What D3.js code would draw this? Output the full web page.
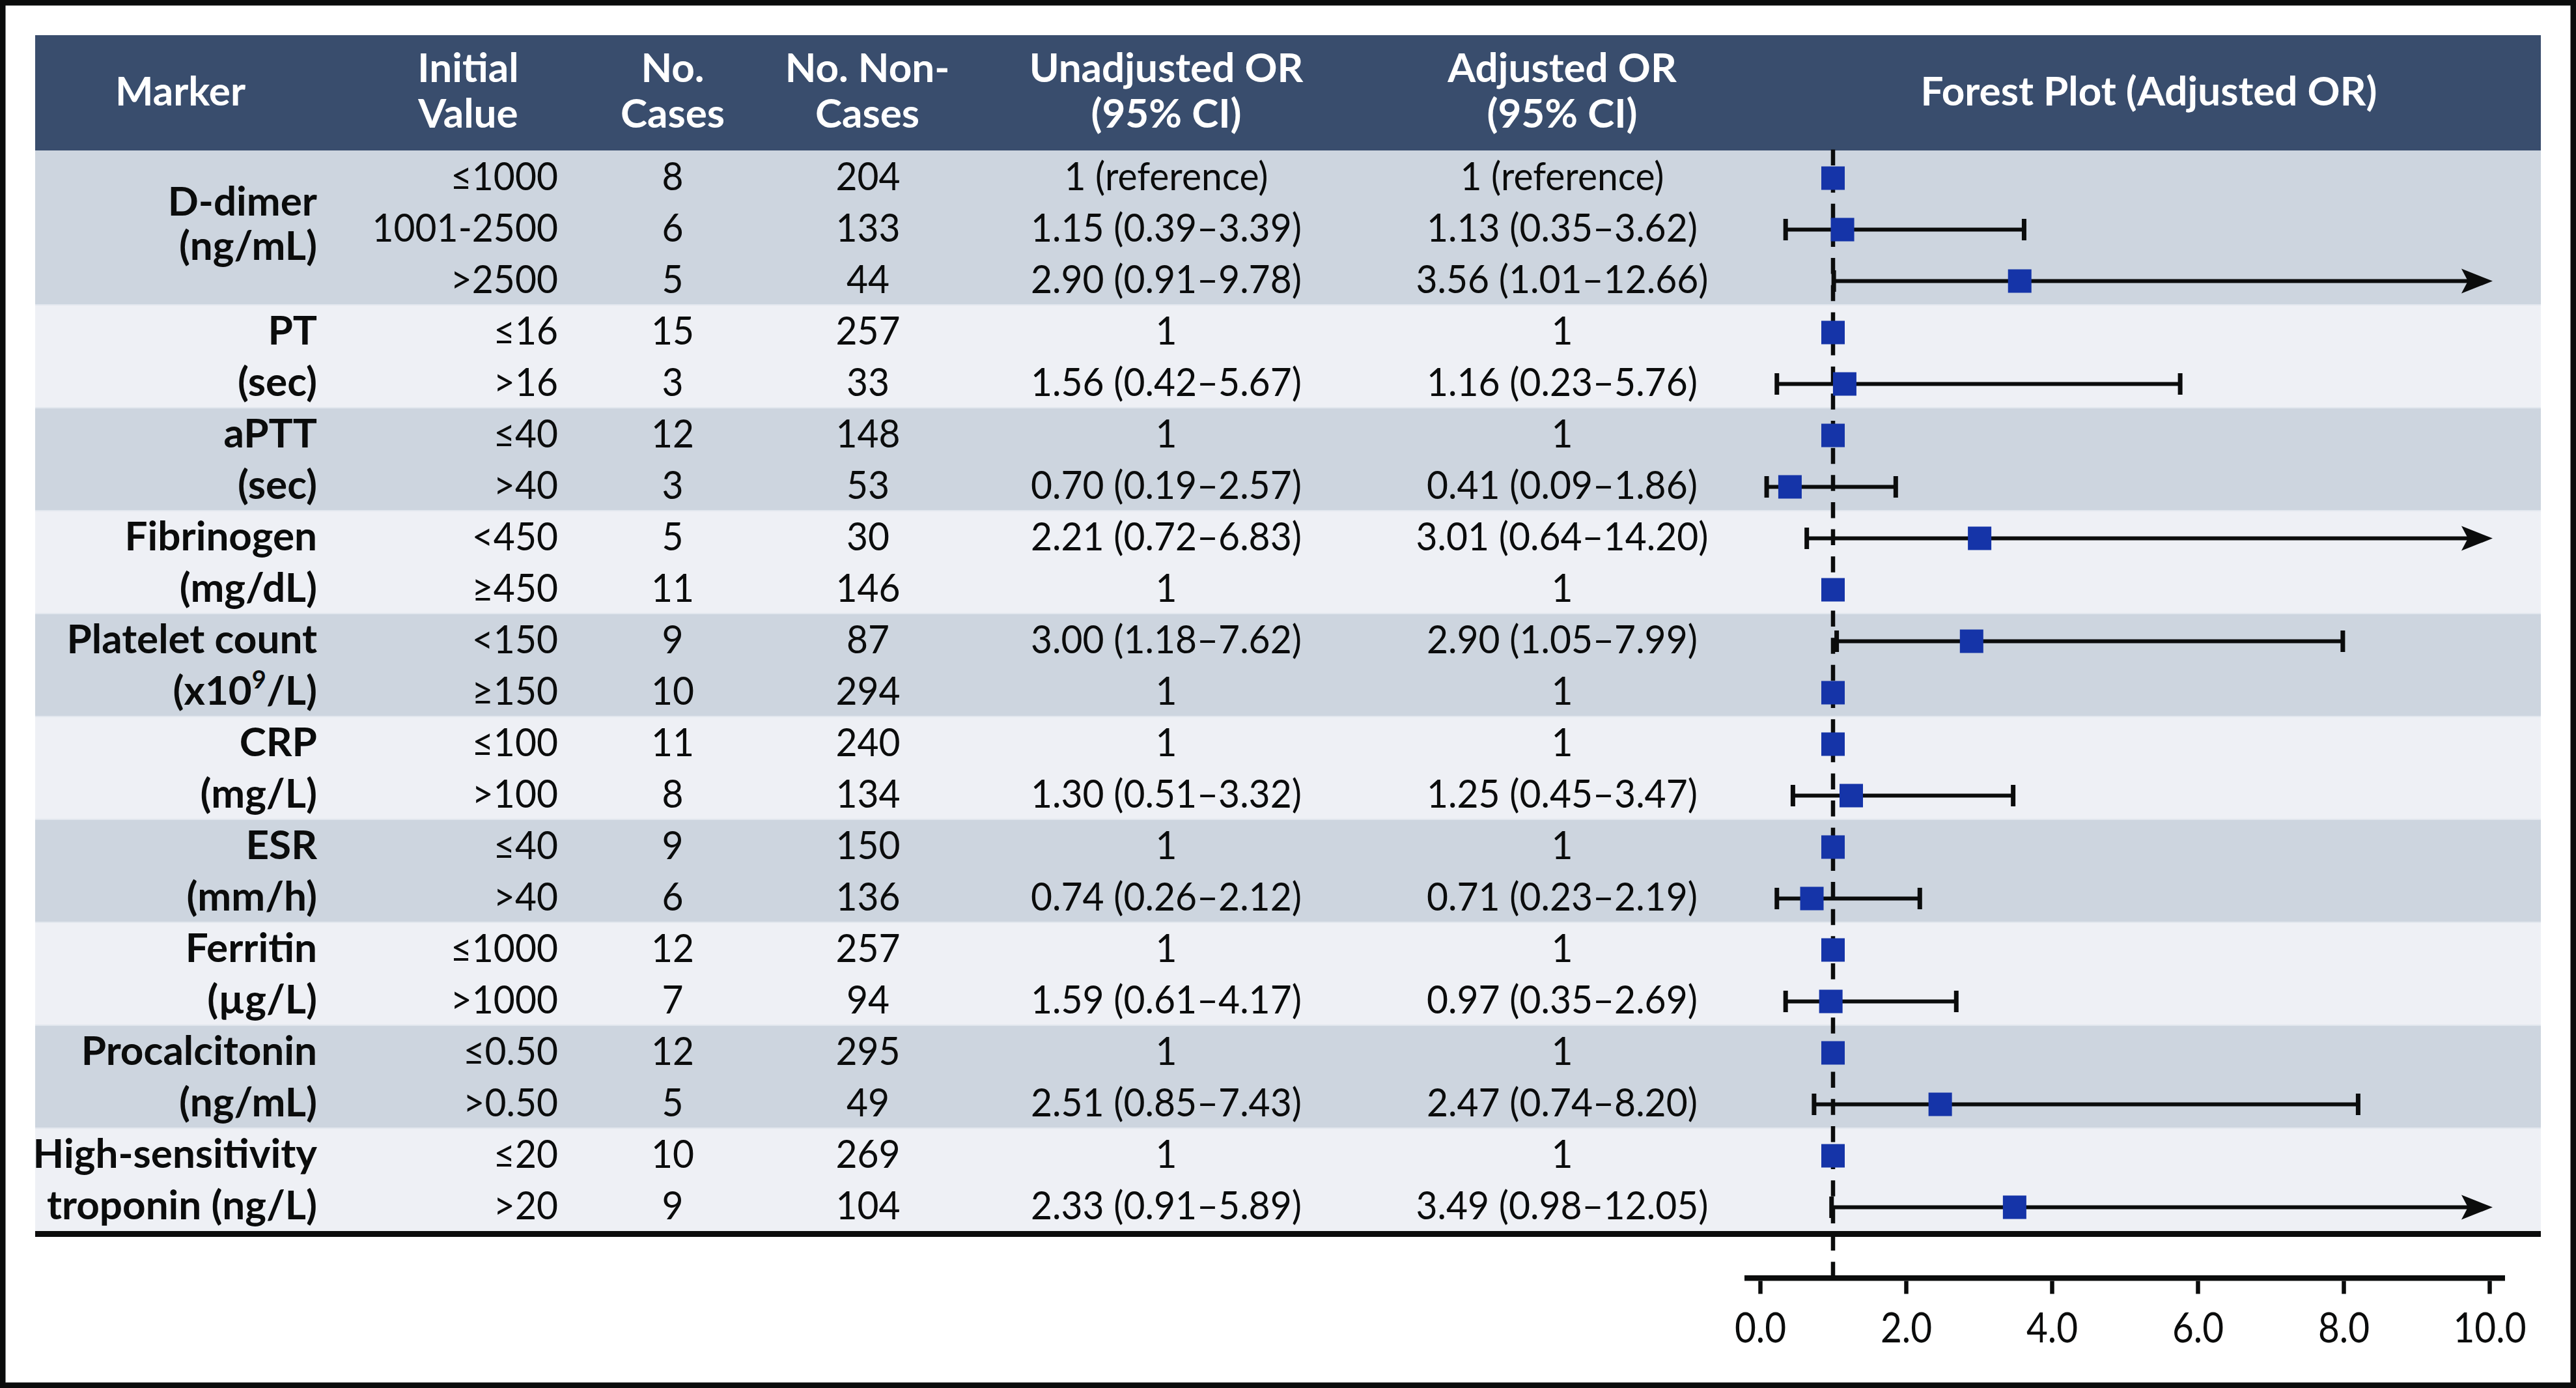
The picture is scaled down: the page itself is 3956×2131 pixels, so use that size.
<!DOCTYPE html>
<html>
<head>
<meta charset="utf-8">
<script src="https://cdn.jsdelivr.net/npm/d3@7"></script>
<style>
	html, body { margin: 0; padding: 0; background: #fff; }
	svg { display: block; }
	text { font-family: Lato, 'Open Sans', sans-serif; }
</style>
</head>
<body>
<div id="chart"></div>
<script>
//	表头
const headerLabels = [
	['Marker'],
	['Initial', 'Value'],
	['No.', 'Cases'],
	['No. Non-', 'Cases'],
	['Unadjusted OR', '(95% CI)'],
	['Adjusted OR', '(95% CI)'],
	['Forest Plot (Adjusted OR)']
];

//	标记物分组，^ 后面是上标
const markerNames = [
	['D-dimer', '(ng/mL)'],
	['PT', '(sec)'],
	['aPTT', '(sec)'],
	['Fibrinogen', '(mg/dL)'],
	['Platelet count', '(x10^9^/L)'],
	['CRP', '(mg/L)'],
	['ESR', '(mm/h)'],
	['Ferritin', '(µg/L)'],
	['Procalcitonin', '(ng/mL)'],
	['High-sensitivity', 'troponin (ng/L)']
];
const groupSizes = [3, 2, 2, 2, 2, 2, 2, 2, 2, 2];

const initialValues = ['≤1000', '1001-2500', '>2500', '≤16', '>16', '≤40', '>40', '<450', '≥450',
	'<150', '≥150', '≤100', '>100', '≤40', '>40', '≤1000', '>1000', '≤0.50', '>0.50', '≤20', '>20'];
const cases = [8, 6, 5, 15, 3, 12, 3, 5, 11, 9, 10, 11, 8, 9, 6, 12, 7, 12, 5, 10, 9];
const nonCases = [204, 133, 44, 257, 33, 148, 53, 30, 146, 87, 294, 240, 134, 150, 136, 257, 94, 295, 49, 269, 104];
const unadjustedOR = ['1 (reference)', '1.15 (0.39–3.39)', '2.90 (0.91–9.78)', '1', '1.56 (0.42–5.67)',
	'1', '0.70 (0.19–2.57)', '2.21 (0.72–6.83)', '1', '3.00 (1.18–7.62)', '1', '1', '1.30 (0.51–3.32)',
	'1', '0.74 (0.26–2.12)', '1', '1.59 (0.61–4.17)', '1', '2.51 (0.85–7.43)', '1', '2.33 (0.91–5.89)'];
const adjustedOR = ['1 (reference)', '1.13 (0.35–3.62)', '3.56 (1.01–12.66)', '1', '1.16 (0.23–5.76)',
	'1', '0.41 (0.09–1.86)', '3.01 (0.64–14.20)', '1', '2.90 (1.05–7.99)', '1', '1', '1.25 (0.45–3.47)',
	'1', '0.71 (0.23–2.19)', '1', '0.97 (0.35–2.69)', '1', '2.47 (0.74–8.20)', '1', '3.49 (0.98–12.05)'];

//	森林图数据（校正 OR）
const orPoint = [1, 1.13, 3.56, 1, 1.16, 1, 0.41, 3.01, 1, 2.90, 1, 1, 1.25, 1, 0.71, 1, 0.97, 1, 2.47, 1, 3.49];
const ciLow = [null, 0.35, 1.01, null, 0.23, null, 0.09, 0.64, null, 1.05, null, null, 0.45, null, 0.23, null, 0.35, null, 0.74, null, 0.98];
const ciHigh = [null, 3.62, 12.66, null, 5.76, null, 1.86, 14.20, null, 7.99, null, null, 3.47, null, 2.19, null, 2.69, null, 8.20, null, 12.05];
const xTicks = [0, 2, 4, 6, 8, 10];

//	布局
const W = 3956, H = 2131;
const tableLeft = 54, tableRight = 3902, headTop = 54, headBottom = 231, tableBottom = 1890;
const headerX = [277, 719, 1033, 1332, 1791, 2399, 3300];
const squeeze = 0.95;
const colors = { head: '#394d6d', dark: '#cdd5df', light: '#eef0f5', ink: '#0b0c0c', box: '#1534a8' };

const svg = d3.select('#chart')
	.append('svg')
	.attr('width', W)
	.attr('height', H);

svg.append('rect')
	.attr('width', W).attr('height', H)
	.attr('fill', '#fff');

const nRows = initialValues.length;
const y = d3.scaleBand()
	.domain(d3.range(nRows))
	.range([headBottom, tableBottom]);
const rowMid = i => y(i) + y.bandwidth() / 2;
const rowBase = i => rowMid(i) + 21;

//	分组
const groups = [];
let start = 0;
groupSizes.forEach((n, gi) => {
	groups.push({ start, n, names: markerNames[gi], gi });
	start += n;
});

//	背景条
svg.append('g')
	.selectAll('rect')
	.data(groups)
	.join('rect')
	.attr('x', tableLeft)
	.attr('width', tableRight - tableLeft)
	.attr('y', d => y(d.start))
	.attr('height', d => d.n * y.bandwidth())
	.attr('fill', d => d.gi % 2 ? colors.light : colors.dark);

//	组间细线
svg.append('g')
	.selectAll('line')
	.data(groups.slice(1))
	.join('line')
	.attr('x1', tableLeft).attr('x2', tableRight)
	.attr('y1', d => y(d.start)).attr('y2', d => y(d.start))
	.attr('stroke', '#e2e7ee')
	.attr('stroke-width', 2);

//	表头
svg.append('rect')
	.attr('x', tableLeft)
	.attr('y', headTop)
	.attr('width', tableRight - tableLeft)
	.attr('height', headBottom - headTop)
	.attr('fill', colors.head);

const headMid = (headTop + headBottom) / 2;
svg.append('g')
	.selectAll('text')
	.data(headerLabels)
	.join('text')
	.attr('text-anchor', 'middle')
	.attr('fill', '#fff')
	.style('font-size', '62px')
	.style('font-weight', 700)
	.each(function (lines, i){
		const t = d3.select(this);
		const first = lines.length === 1 ? headMid + 19 : headMid - 17;
		lines.forEach((line, k) => {
			t.append('tspan')
				.attr('x', headerX[i])
				.attr('y', first + k * 70)
				.text(line);
		});
	});

//	标记物名称
const markerEnd = 487;
const labelLines = g => {
	if (g.n === 2) {
		return [rowBase(g.start), rowBase(g.start + 1)];
	}
	const mid = (rowBase(g.start) + rowBase(g.start + g.n - 1)) / 2 - 6;
	return [mid - 34, mid + 34];
};
svg.append('g')
	.selectAll('g')
	.data(groups)
	.join('g')
	.each(function (g){
		const ys = labelLines(g);
		g.names.forEach((name, k) => {
			const t = d3.select(this)
				.append('text')
				.attr('x', markerEnd)
				.attr('y', ys[k])
				.attr('text-anchor', 'end')
				.attr('fill', colors.ink)
				.style('font-size', '62px')
				.style('font-weight', 700);
			//	上标
			name.split('^').forEach((part, p) => {
				if (p % 2) {
					t.append('tspan').attr('dy', -25).style('font-size', '38px').text(part);
				} else {
					t.append('tspan').attr('dy', p ? 25 : 0).text(part);
				}
			});
		});
	});

//	表格数据列
const bodyCols = [
	{ values: initialValues, x: 857, anchor: 'end' },
	{ values: cases, x: 1033, anchor: 'middle' },
	{ values: nonCases, x: 1333, anchor: 'middle' },
	{ values: unadjustedOR, x: 1791, anchor: 'middle' },
	{ values: adjustedOR, x: 2399, anchor: 'middle' }
];
bodyCols.forEach(col => {
	svg.append('g')
		.selectAll('text')
		.data(col.values)
		.join('text')
		.attr('transform', (d, i) => 'translate(' + col.x + ',' + rowBase(i) + ') scale(' + squeeze + ',1)')
		.attr('text-anchor', col.anchor)
		.attr('fill', colors.ink)
		.style('font-size', '60px')
		.text(d => d);
});

//	森林图
const fx = d3.scaleLinear().domain([0, 10]).range([2703, 3823]);
const py = i => rowMid(i) + 3;
const axisY = 1966.5;

//	参考虚线 OR = 1
svg.append('line')
	.attr('x1', fx(1)).attr('x2', fx(1))
	.attr('y1', headBottom - 1.5)
	.attr('y2', axisY - 8)
	.attr('stroke', colors.ink)
	.attr('stroke-width', 6.5)
	.attr('stroke-dasharray', '24.5,17.15');

const rows = d3.range(nRows).map(i => ({ i, or: orPoint[i], lo: ciLow[i], hi: ciHigh[i] }));
const ciRows = rows.filter(d => d.lo !== null);
const xMax = fx.domain()[1];
const tipX = fx(xMax) + 5;

//	置信区间
svg.append('g')
	.selectAll('line')
	.data(ciRows)
	.join('line')
	.attr('x1', d => fx(d.lo))
	.attr('x2', d => d.hi > xMax ? tipX - 30 : fx(d.hi))
	.attr('y1', d => py(d.i))
	.attr('y2', d => py(d.i))
	.attr('stroke', colors.ink)
	.attr('stroke-width', 6);

//	端点短线
const caps = ciRows.flatMap(d => d.hi > xMax ? [{ i: d.i, v: d.lo }] : [{ i: d.i, v: d.lo }, { i: d.i, v: d.hi }]);
svg.append('g')
	.selectAll('line')
	.data(caps)
	.join('line')
	.attr('x1', d => fx(d.v)).attr('x2', d => fx(d.v))
	.attr('y1', d => py(d.i) - 16.5)
	.attr('y2', d => py(d.i) + 16.5)
	.attr('stroke', colors.ink)
	.attr('stroke-width', 7);

//	箭头（上限超出坐标轴）
svg.append('g')
	.selectAll('path')
	.data(ciRows.filter(d => d.hi > xMax))
	.join('path')
	.attr('transform', d => 'translate(' + tipX + ',' + py(d.i) + ')')
	.attr('d', 'M0,0 L-48,-19 L-38,0 L-48,19 Z')
	.attr('fill', colors.ink);

//	方块
const box = 36;
svg.append('g')
	.selectAll('rect')
	.data(rows)
	.join('rect')
	.attr('x', d => fx(d.or) - box / 2)
	.attr('y', d => py(d.i) - box / 2)
	.attr('width', box)
	.attr('height', box)
	.attr('fill', colors.box);

//	表格底线
svg.append('line')
	.attr('x1', tableLeft).attr('x2', tableRight)
	.attr('y1', tableBottom + 4.5).attr('y2', tableBottom + 4.5)
	.attr('stroke', colors.ink)
	.attr('stroke-width', 9);

//	坐标轴
const axis = d3.axisBottom(fx)
	.tickValues(xTicks)
	.tickFormat(d3.format('.1f'))
	.tickSize(20)
	.tickSizeOuter(0)
	.tickPadding(30);
const gAxis = svg.append('g')
	.attr('transform', 'translate(0,' + axisY + ')')
	.call(axis);
gAxis.select('.domain').remove();
gAxis.append('line')
	.attr('x1', fx(0) - 24).attr('x2', fx(xMax) + 24)
	.attr('y1', -4.2).attr('y2', -4.2)
	.attr('stroke', colors.ink)
	.attr('stroke-width', 8.4);
gAxis.selectAll('.tick line')
	.attr('stroke', colors.ink)
	.attr('stroke-width', 6.5);
gAxis.selectAll('.tick text')
	.attr('fill', colors.ink)
	.attr('transform', 'scale(0.9,1)')
	.style('font-family', "Lato, 'Open Sans', sans-serif")
	.style('font-size', '63px');

//	外框
svg.append('rect')
	.attr('x', 4.25).attr('y', 4.25)
	.attr('width', W - 8.5).attr('height', H - 8.5)
	.attr('fill', 'none')
	.attr('stroke', colors.ink)
	.attr('stroke-width', 8.5);
</script>
</body>
</html>
